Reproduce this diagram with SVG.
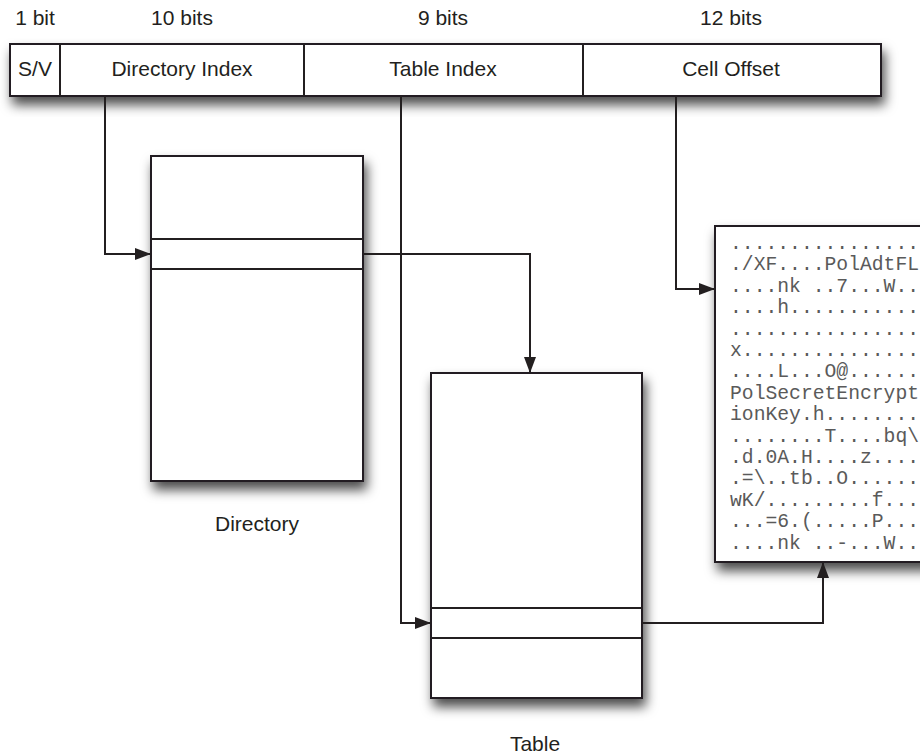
<svg xmlns="http://www.w3.org/2000/svg" width="920" height="756" viewBox="0 0 920 756">
<defs>
<filter id="sh" x="-10%" y="-10%" width="130%" height="150%">
<feDropShadow dx="3" dy="8" stdDeviation="6" flood-color="#000" flood-opacity="0.7"/>
</filter>
<marker id="ah" viewBox="0 0 16 12" markerWidth="16" markerHeight="12" refX="16" refY="6" orient="auto" markerUnits="userSpaceOnUse">
<path d="M0,0 L16,6 L0,12 Z" fill="#231f20"/>
</marker>
<style>
.box{fill:#fff;stroke:#231f20;stroke-width:2}
.ln{fill:none;stroke:#231f20;stroke-width:2}
.lbl{font-family:"Liberation Sans",Arial,sans-serif;font-size:21px;fill:#231f20;text-anchor:middle}
.mono{font-family:"Liberation Mono","Courier New",monospace;font-size:19.7px;fill:#5a5a5a}
</style>
</defs>
<g id="bits-labels">
<text class="lbl" x="35" y="25">1 bit</text>
<text class="lbl" x="182" y="25">10 bits</text>
<text class="lbl" x="443" y="25">9 bits</text>
<text class="lbl" x="731" y="25">12 bits</text>
</g>
<g id="address">
<rect class="box" x="10" y="44" width="871" height="52" filter="url(#sh)"/>
<line class="ln" x1="60" y1="44" x2="60" y2="96"/>
<line class="ln" x1="304" y1="44" x2="304" y2="96"/>
<line class="ln" x1="583" y1="44" x2="583" y2="96"/>
<text class="lbl" x="35" y="76">S/V</text>
<text class="lbl" x="182" y="76">Directory Index</text>
<text class="lbl" x="443" y="76">Table Index</text>
<text class="lbl" x="731" y="76">Cell Offset</text>
</g>
<g id="directory">
<rect class="box" x="151" y="156" width="212" height="325" filter="url(#sh)"/>
<line class="ln" x1="151" y1="239" x2="363" y2="239"/>
<line class="ln" x1="151" y1="269" x2="363" y2="269"/>
<text class="lbl" x="257" y="531">Directory</text>
</g>
<g id="table">
<rect class="box" x="431" y="373" width="211" height="325" filter="url(#sh)"/>
<line class="ln" x1="431" y1="608" x2="642" y2="608"/>
<line class="ln" x1="431" y1="638" x2="642" y2="638"/>
<text class="lbl" x="535" y="751">Table</text>
</g>
<g id="cell">
<rect class="box" x="715" y="226" width="230" height="336" filter="url(#sh)"/>
<text class="mono" xml:space="preserve"><tspan x="730" y="249">................</tspan><tspan x="730" y="270.4">./XF....PolAdtFL</tspan><tspan x="730" y="291.8">....nk ..7...W..</tspan><tspan x="730" y="313.2">....h...........</tspan><tspan x="730" y="334.6">................</tspan><tspan x="730" y="356">x...............</tspan><tspan x="730" y="377.4">....L...O@......</tspan><tspan x="730" y="398.8">PolSecretEncrypt</tspan><tspan x="730" y="420.2">ionKey.h........</tspan><tspan x="730" y="441.6">........T....bq\</tspan><tspan x="730" y="463">.d.0A.H....z....</tspan><tspan x="730" y="484.4">.=\..tb..O......</tspan><tspan x="730" y="505.8">wK/.........f...</tspan><tspan x="730" y="527.2">...=6.(.....P...</tspan><tspan x="730" y="548.6">....nk ..-...W..</tspan></text>
</g>
<g id="connectors">
<path class="ln" d="M105,96 V254 H151" marker-end="url(#ah)"/>
<path class="ln" d="M363,254 H530 V373" marker-end="url(#ah)"/>
<path class="ln" d="M401,96 V623 H431" marker-end="url(#ah)"/>
<path class="ln" d="M676,96 V289 H715" marker-end="url(#ah)"/>
<path class="ln" d="M642,623 H823 V562" marker-end="url(#ah)"/>
</g>
</svg>
